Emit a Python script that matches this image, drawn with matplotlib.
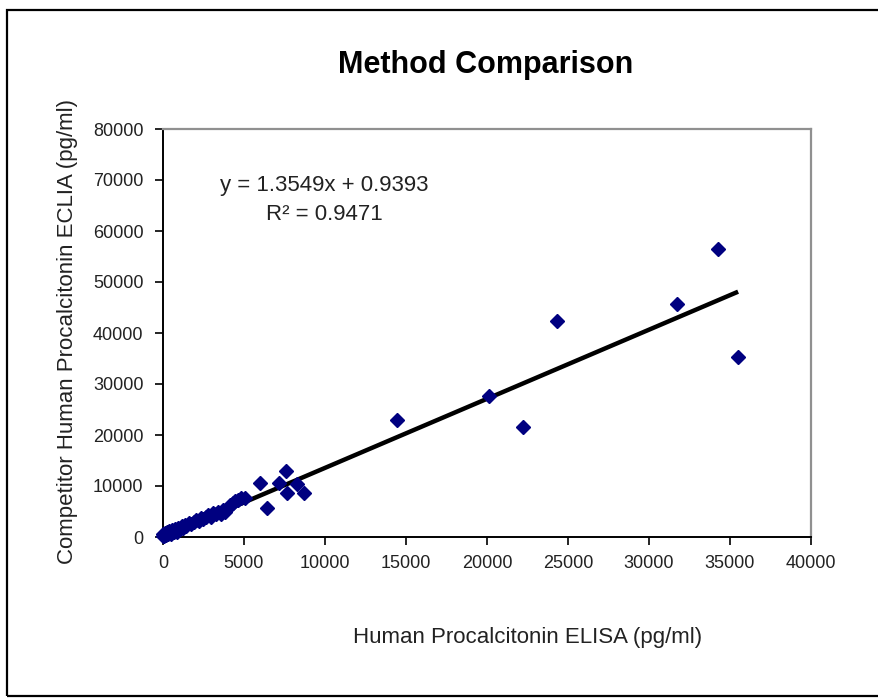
import matplotlib
matplotlib.use("Agg")
import matplotlib.pyplot as plt
from matplotlib.patches import Rectangle

plt.rcParams['font.family'] = ['Liberation Sans', 'DejaVu Sans']

# ELISA (x) vs ECLIA (y), pg/ml
elisa = [0, 30, 80, 120, 180, 250, 320, 400, 480, 560, 650, 750, 850, 950,
         1050, 1150, 1250, 1350, 1450, 1600, 1750, 1900, 2050, 2200, 2350,
         2500, 2650, 2800, 2950, 3100, 3250, 3400, 3550, 3700, 3850, 4000,
         4150, 4300, 4450, 4600, 4800, 5050,
         5990, 6420, 7160, 7590, 7650, 8270, 8700,
         14440, 20100, 22200, 24320, 31730, 34260, 35500]
eclia = [200, 500, 100, 700, 300, 900, 600, 1100, 500, 1300, 900, 1500, 1000, 1800,
         1500, 2100, 1700, 2400, 2200, 2700, 2500, 3000, 3300, 3100, 3700,
         3500, 4000, 4300, 3900, 4700, 4500, 5000, 4600, 5200, 4900, 5600,
         6200, 6600, 7000, 7200, 7600, 7700,
         10590, 5690, 10590, 12940, 8630, 10390, 8630,
         22940, 27600, 21600, 42350, 45690, 56470, 35300]

slope = 1.3549
intercept = 0.9393
r2 = 0.9471

xticks = [0, 5000, 10000, 15000, 20000, 25000, 30000, 35000, 40000]
yticks = [0, 10000, 20000, 30000, 40000, 50000, 60000, 70000, 80000]

W, H = 879, 698
fig = plt.figure(figsize=(W / 100, H / 100), dpi=100)
ax = fig.add_axes([163 / W, 1 - 537 / H, (811 - 163) / W, (537 - 129) / H])

# trend line
x0, x1 = min(elisa), max(elisa)
ax.plot([x0, x1], [slope * x0 + intercept, slope * x1 + intercept],
        color='black', lw=3.2, zorder=2, solid_capstyle='butt')
ax.plot(elisa, eclia, linestyle='none', marker='D', markersize=6.8,
        color='#000080', markeredgecolor='#000080', zorder=3, clip_on=False)

ax.set_xlim(0, 40000)
ax.set_ylim(0, 80000)
ax.set_xticks(xticks)
ax.set_yticks(yticks)
ax.tick_params(axis='both', direction='out', length=6, width=1.2,
               labelsize=13, colors='black', labelcolor='#222222')
ax.tick_params(axis='y', pad=8)
ax.tick_params(axis='x', pad=7)

for s in ['left', 'bottom']:
    ax.spines[s].set_color('black')
    ax.spines[s].set_linewidth(1.4)
for s in ['top', 'right']:
    ax.spines[s].set_color('#909090')
    ax.spines[s].set_linewidth(1.6)

fig.text(486 / W, 1 - 73 / H, 'Method Comparison', ha='center', va='baseline',
         fontsize=22, fontweight='bold')
fig.text(68 / W, 1 - 332 / H, 'Competitor Human Procalcitonin ECLIA (pg/ml)',
         rotation=90, ha='center', va='center', fontsize=16, color='#222222')
fig.text(528 / W, 1 - 637 / H, 'Human Procalcitonin ELISA (pg/ml)',
         ha='center', va='center', fontsize=16, color='#222222')

fig.text(324 / W, 1 - 185 / H, 'y = %.4fx + %.4f' % (slope, intercept),
         ha='center', va='center', fontsize=16, color='#222222')
fig.text(324 / W, 1 - 214 / H, 'R² = %.4f' % r2,
         ha='center', va='center', fontsize=16, color='#222222')

# outer frame of the page box
fig.patches.append(Rectangle((7 / W, 1 - 696 / H), (W + 20) / W, (696 - 10) / H,
                             transform=fig.transFigure, fill=False,
                             edgecolor='black', lw=1.6))

fig.savefig('out.png', dpi=100)
